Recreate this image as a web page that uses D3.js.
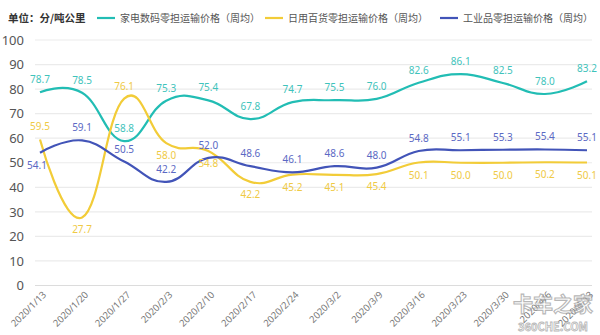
<!DOCTYPE html>
<html><head><meta charset="utf-8">
<script src="https://cdn.jsdelivr.net/npm/d3@7"></script>
<style>
html,body{margin:0;padding:0;background:#fff;}
svg{display:block;font-family:"Noto Sans CJK SC","Noto Sans",sans-serif;}
</style></head>
<body>
<svg id="chart" width="600" height="335"></svg>
<script>
const categories = ["2020/1/13","2020/1/20","2020/1/27","2020/2/3","2020/2/10","2020/2/17","2020/2/24","2020/3/2","2020/3/9","2020/3/16","2020/3/23","2020/3/30","2020/4/6","2020/4/13"];
const appliance = [78.7,78.5,58.8,75.3,75.4,67.8,74.7,75.5,76.0,82.6,86.1,82.5,78.0,83.2];
const daily = [59.5,27.7,76.1,58.0,54.8,42.2,45.2,45.1,45.4,50.1,50.0,50.0,50.2,50.1];
const industrial = [54.1,59.1,50.5,42.2,52.0,48.6,46.1,48.6,48.0,54.8,55.1,55.3,55.4,55.1];
const seriesNames = ["家电数码零担运输价格（周均）","日用百货零担运输价格（周均）","工业品零担运输价格（周均）"];
const yTicks = [0,10,20,30,40,50,60,70,80,90,100];
const unitLabel = "单位：分/吨公里";
// label placement: 1 = above the point, -1 = below
const applianceLabelSide = [1,1,1,1,1,1,1,1,1,1,1,1,1,1];
const dailyLabelSide = [1,-1,1,-1,-1,-1,-1,-1,-1,-1,-1,-1,-1,-1];
const industrialLabelSide = [-1,1,1,1,1,1,1,1,1,1,1,1,1,1];

const colors = ["#22bdb4","#f2cc38","#4254b8"];
const labelColors = ["#3fc3bb","#efca45","#5b69c4"];

const svg = d3.select("#chart");
const x = d3.scalePoint().domain(categories).range([40, 587]);
const y = d3.scaleLinear().domain([0, 100]).range([285.5, 40]);

// grid
svg.append("g").selectAll("line").data(yTicks).join("line")
  .attr("x1", 35).attr("x2", 592)
  .attr("y1", d => y(d)).attr("y2", d => y(d))
  .attr("stroke", d => d === 0 ? "#dcdcdc" : "#ebebeb").attr("stroke-width", 1.2);

// y axis labels
const yAxis = d3.axisLeft(y).tickValues(yTicks).tickSize(0).tickPadding(0);
const yg = svg.append("g").attr("transform", "translate(24,0)").call(yAxis);
yg.select(".domain").remove();
yg.selectAll("text").attr("fill", "#555").style("font-size", "13px")
  .style("font-family", "'Noto Sans',sans-serif");

// x axis labels
const xAxis = d3.axisBottom(x).tickSize(0).tickPadding(0);
const xg = svg.append("g").attr("transform", "translate(0,293)").call(xAxis);
xg.select(".domain").remove();
xg.selectAll("text").attr("fill", "#777").style("font-size", "9.5px")
  .style("font-family", "'Noto Sans',sans-serif")
  .attr("text-anchor", "end").attr("dy", "0.35em")
  .attr("transform", "translate(4,0) rotate(-45)");

// lines
const line = d3.line().x((d, i) => x(categories[i])).y(d => y(d))
  .curve(d3.curveCardinal.tension(-0.3));
const all = [appliance, daily, industrial];
const sides = [applianceLabelSide, dailyLabelSide, industrialLabelSide];
all.forEach((vals, si) => {
  svg.append("path").datum(vals).attr("d", line)
    .attr("fill", "none").attr("stroke", colors[si]).attr("stroke-width", 2.2);
});
all.forEach((vals, si) => {
  svg.append("g").selectAll("text").data(vals).join("text")
    .attr("x", (d, i) => x(categories[i]) - (si === 2 && i === 0 ? 3 : 0))
    .attr("y", (d, i) => y(d) - sides[si][i] * (sides[si][i] > 0 ? 9 : 16))
    .attr("text-anchor", "middle")
    .attr("fill", labelColors[si])
    .style("font-size", "10px")
    .style("font-family", "'Noto Sans',sans-serif")
    .text(d => d.toFixed(1));
});

// legend
svg.append("text").attr("x", 8).attr("y", 22).text(unitLabel)
  .attr("fill", "#333").style("font-size", "10.5px").style("font-weight", "bold");
const legX = [97, 265, 440];
seriesNames.forEach((n, i) => {
  svg.append("line").attr("x1", legX[i]).attr("x2", legX[i] + 18)
    .attr("y1", 18).attr("y2", 18).attr("stroke", colors[i]).attr("stroke-width", 2.2);
  svg.append("text").attr("x", legX[i] + 23).attr("y", 22).text(n)
    .attr("fill", "#555").style("font-size", "10px");
});

// watermark
const wm = svg.append("g").attr("opacity", 0.7);
wm.append("text").attr("x", 553).attr("y", 312).attr("text-anchor", "middle")
  .text("卡车之家").attr("fill", "#fff").attr("stroke", "#9a9a9a").attr("stroke-width", 1.1)
  .style("font-size", "20px").style("font-weight", "bold");
wm.append("text").attr("x", 553).attr("y", 331).attr("text-anchor", "middle")
  .text("360CHE.COM").attr("fill", "#fff").attr("stroke", "#9a9a9a").attr("stroke-width", 0.8)
  .style("font-size", "11px").style("font-weight", "bold");
</script>
</body></html>
